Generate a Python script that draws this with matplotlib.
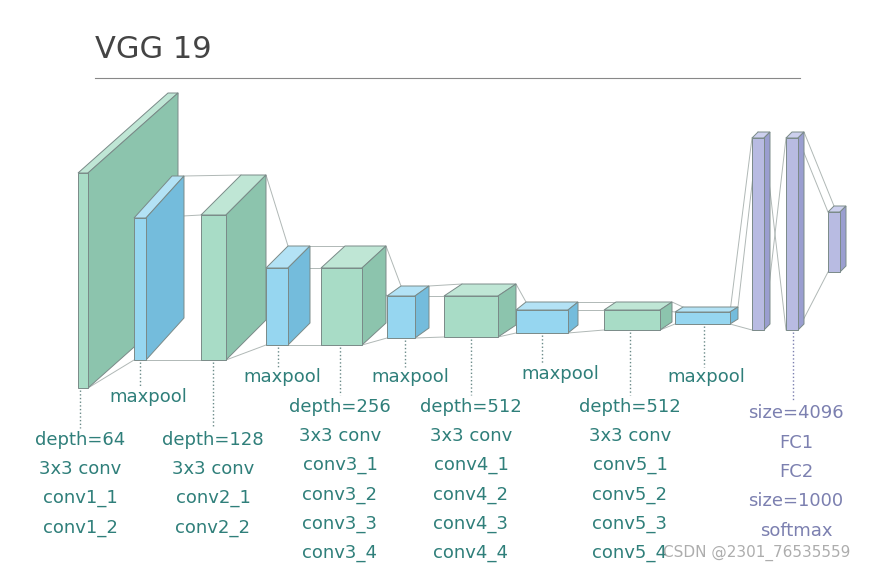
import matplotlib
matplotlib.use("Agg")
import matplotlib.pyplot as plt
from matplotlib.patches import Polygon

# ---- data ----
# boxes: x0, y_top, width, height, depth dx, depth dy(up), kind
box_x = [78, 134, 201, 266, 321, 387, 444, 516, 604, 675, 752, 786, 828]
box_y = [173, 218, 215, 268, 268, 296, 296, 310, 310, 312, 138, 138, 212]
box_w = [10, 12, 25, 22, 41, 28, 54, 52, 56, 55, 12, 12, 12]
box_h = [215, 142, 145, 77, 77, 42, 41, 23, 20, 12, 192, 192, 60]
box_dx = [90, 38, 40, 22, 24, 14, 18, 10, 12, 8, 6, 6, 6]
box_dy = [80, 42, 40, 22, 22, 10, 12, 8, 8, 5, 6, 6, 6]
box_kind = ["g", "b", "g", "b", "g", "b", "g", "b", "g", "b", "p", "p", "p"]

pool_x = [148, 282, 410, 560, 706]
pool_y = [397, 377, 377, 374, 377]
pool_src = [(140, 360), (278, 345), (405, 338), (542, 333), (704, 324)]

col_x = [80, 213, 340, 471, 630]
col_y0 = [440, 440, 407, 407, 407]
col_src = [(80, 388), (213, 360), (340, 345), (471, 337), (630, 330)]
col_labels = [
    ["depth=64", "3x3 conv", "conv1_1", "conv1_2"],
    ["depth=128", "3x3 conv", "conv2_1", "conv2_2"],
    ["depth=256", "3x3 conv", "conv3_1", "conv3_2", "conv3_3", "conv3_4"],
    ["depth=512", "3x3 conv", "conv4_1", "conv4_2", "conv4_3", "conv4_4"],
    ["depth=512", "3x3 conv", "conv5_1", "conv5_2", "conv5_3", "conv5_4"],
]
fc_labels = ["size=4096", "FC1", "FC2", "size=1000", "softmax"]

colors = {
    "g": ("#a8dcc6", "#8cc4ad", "#bfe6d5"),
    "b": ("#96d6f0", "#74bcdc", "#b3e2f5"),
    "p": ("#b8bbe2", "#9a9ed0", "#cdd0ee"),
}
teal = "#2f7f7a"
purple = "#7c80b0"
edge = "#7a8a88"

fig = plt.figure(figsize=(8.78, 5.74), dpi=100)
ax = fig.add_axes([0, 0, 1, 1])
ax.set_xlim(0, 878)
ax.set_ylim(574, 0)
ax.axis("off")

ax.text(95, 50, "VGG 19", fontsize=22, color="#444444", va="center", ha="left")
ax.plot([95, 800], [78, 78], color="#888888", lw=0.8)

def corners(i):
    x, y, w, h, dx, dy = box_x[i], box_y[i], box_w[i], box_h[i], box_dx[i], box_dy[i]
    return x, y, w, h, dx, dy

# connecting lines
n = len(box_x)
for i in range(n - 1):
    x, y, w, h, dx, dy = corners(i)
    x2, y2, w2, h2, dx2, dy2 = corners(i + 1)
    if i in (10,):
        segs = [((x + w, y), (x2, y2 + h2)), ((x + w, y + h), (x2, y2))]
    else:
        segs = [((x + w + dx, y - dy), (x2 + dx2, y2 - dy2)),
                ((x + w, y), (x2, y2)), ((x + w, y + h), (x2, y2 + h2))]
    for (a, b) in segs:
        ax.plot([a[0], b[0]], [a[1], b[1]], color="#b0b8b6", lw=0.7, zorder=1)

for i in range(n):
    x, y, w, h, dx, dy = corners(i)
    front, side, top = colors[box_kind[i]]
    ax.add_patch(Polygon([(x, y), (x + dx, y - dy), (x + w + dx, y - dy), (x + w, y)],
                         closed=True, fc=top, ec=edge, lw=0.7, zorder=2 + i))
    ax.add_patch(Polygon([(x + w, y), (x + w + dx, y - dy), (x + w + dx, y + h - dy), (x + w, y + h)],
                         closed=True, fc=side, ec=edge, lw=0.7, zorder=2 + i))
    ax.add_patch(Polygon([(x, y), (x + w, y), (x + w, y + h), (x, y + h)],
                         closed=True, fc=front, ec=edge, lw=0.7, zorder=2 + i))

fs = 13
for px, py, (sx, sy) in zip(pool_x, pool_y, pool_src):
    ax.plot([sx, sx], [sy + 2, py - 10], ls=":", color="#6a8a88", lw=1)
    ax.text(px, py, "maxpool", fontsize=fs, color=teal, ha="center", va="center")

for cx, cy, (sx, sy), labels in zip(col_x, col_y0, col_src, col_labels):
    ax.plot([sx, sx], [sy + 2, cy - 12], ls=":", color="#6a8a88", lw=1)
    for k, t in enumerate(labels):
        ax.text(cx, cy + 29.2 * k, t, fontsize=fs, color=teal, ha="center", va="center")

ax.plot([793, 793], [332, 400], ls=":", color="#7c80b0", lw=1)
for k, t in enumerate(fc_labels):
    ax.text(796, 413 + 29.5 * k, t, fontsize=fs, color=purple, ha="center", va="center")

ax.text(757, 553, "CSDN @2301_76535559", fontsize=11, color="#999999", ha="center",
        va="center", alpha=0.8)

fig.savefig("out.png", dpi=100)
